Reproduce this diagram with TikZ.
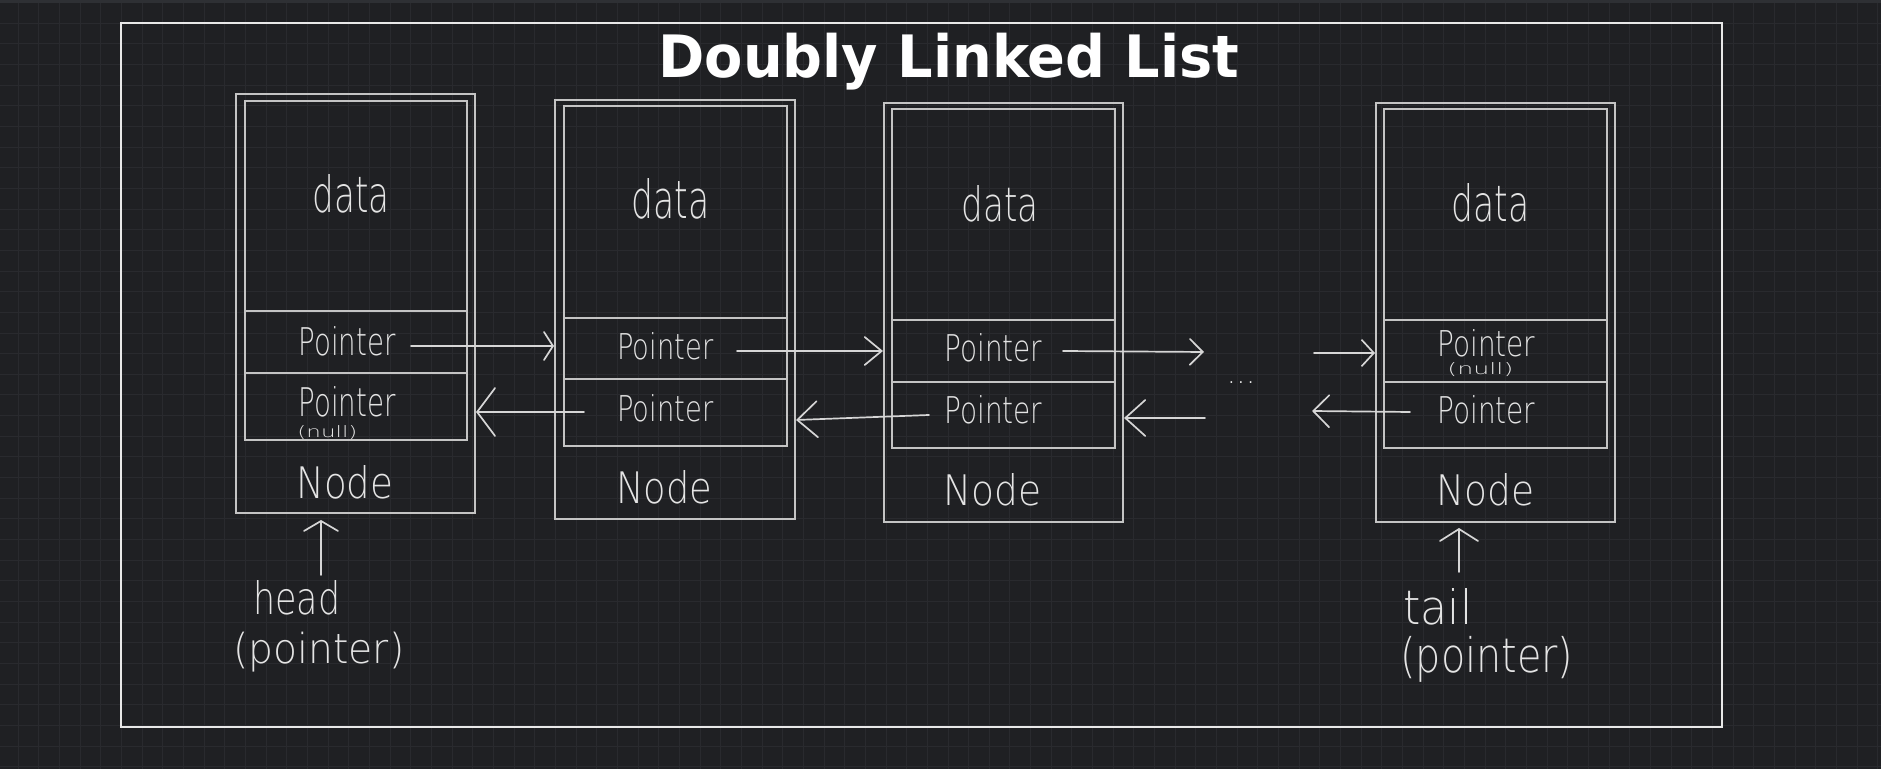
\documentclass[tikz,border=0pt]{standalone}
\usepackage{fontspec}
\setmainfont{DejaVu Sans}
\newfontfamily\hand{DejaVu Sans ExtraLight}
\usetikzlibrary{arrows.meta,fit}
\definecolor{bg}{HTML}{1F2023}
\definecolor{gridc}{HTML}{292A2E}
\definecolor{topbar}{HTML}{2E3034}
\definecolor{ink}{HTML}{E4E4E4}
\definecolor{arrc}{HTML}{D6D6D6}
\definecolor{boxc}{HTML}{C4C4C4}
\definecolor{framec}{HTML}{E8E8E8}
\begin{document}
\begin{tikzpicture}[x=0.5pt,y=-0.5pt,
  outerbox/.style={draw=boxc, line width=1pt, inner sep=0pt, rectangle},
  cell/.style={draw=boxc, line width=0.85pt, inner sep=0pt, rectangle},
  framebox/.style={draw=framec, line width=0.8pt, inner sep=0pt, rectangle},
  lbl/.style={text=ink, inner sep=0pt, anchor=south west, font=\hand},
  harr/.style 2 args={draw=arrc, line width=0.85pt, line cap=round,
    -{Straight Barb[length=#1,width=#2,line cap=round]}}]
% background
\useasboundingbox (0,0) rectangle (1881,769);
\fill[bg] (0,0) rectangle (1881,769);
\foreach \i in {0,...,90} {\draw[gridc, line width=0.5pt] ({18.3+\i*20.66},0) -- ++(0,769);}
\foreach \j in {0,...,37} {\draw[gridc, line width=0.5pt] (0,{2.65+\j*20.65}) -- ++(1881,0);}
\fill[topbar] (0,0) rectangle (1881,3);

% frame and title
\node[framebox, fit={(121,23) (1722,727)}] (frame) {};
\node[text=white, inner sep=0pt, anchor=south west, font=\bfseries] (title) at (658,91)
  {\resizebox*{290.5pt}{28.5pt}{Doubly Linked List}};

% ---- node 1
\node[outerbox, fit={(236,94) (475,513)}] (n1) {};
\node[cell, fit={(245,101) (467,311)}] (d1) {};
\node[cell, fit={(245,311) (467,373)}] (x1) {};
\node[cell, fit={(245,373) (467,440)}] (p1) {};
\node[lbl] (td1) at (312,214) {\resizebox{38.5pt}{19pt}{data}};
\node[lbl] (tx1) at (298,357) {\resizebox{48.5pt}{14.5pt}{Pointer}};
\node[lbl] (tp1) at (298,418) {\resizebox{48.5pt}{15pt}{Pointer}};
\node[lbl] (tn1) at (297,440) {\resizebox*{30pt}{7pt}{(null)}};
\node[lbl] (tN1) at (296,500) {\resizebox{48.5pt}{16.5pt}{Node}};

% ---- node 2
\node[outerbox, fit={(555,100) (795,519)}] (n2) {};
\node[cell, fit={(564,106) (787,318)}] (d2) {};
\node[cell, fit={(564,318) (787,379)}] (x2) {};
\node[cell, fit={(564,379) (787,446)}] (p2) {};
\node[lbl] (td2) at (631,220) {\resizebox{39pt}{20pt}{data}};
\node[lbl] (tx2) at (617,360) {\resizebox{48pt}{13.5pt}{Pointer}};
\node[lbl] (tp2) at (617,422) {\resizebox{48pt}{13.5pt}{Pointer}};
\node[lbl] (tN2) at (616,505) {\resizebox{48pt}{16.5pt}{Node}};

% ---- node 3
\node[outerbox, fit={(884,103) (1123,522)}] (n3) {};
\node[cell, fit={(892,109) (1115,320)}] (d3) {};
\node[cell, fit={(892,320) (1115,382)}] (x3) {};
\node[cell, fit={(892,382) (1115,448)}] (p3) {};
\node[lbl] (td3) at (961,223) {\resizebox{38.5pt}{18pt}{data}};
\node[lbl] (tx3) at (944,363) {\resizebox{49pt}{14pt}{Pointer}};
\node[lbl] (tp3) at (944,425) {\resizebox{49pt}{14pt}{Pointer}};
\node[lbl] (tN3) at (943,507) {\resizebox{49pt}{16pt}{Node}};

% ---- node 4
\node[outerbox, fit={(1376,103) (1615,522)}] (n4) {};
\node[cell, fit={(1384,109) (1607,320)}] (d4) {};
\node[cell, fit={(1384,320) (1607,382)}] (x4) {};
\node[cell, fit={(1384,382) (1607,448)}] (p4) {};
\node[lbl] (td4) at (1451,223) {\resizebox{39pt}{19pt}{data}};
\node[lbl] (tx4) at (1437,357) {\resizebox{49pt}{13.5pt}{Pointer}};
\node[lbl] (tn4) at (1447,377) {\resizebox*{33pt}{7pt}{(null)}};
\node[lbl] (tp4) at (1437,425) {\resizebox{49pt}{14pt}{Pointer}};
\node[lbl] (tN4) at (1436,507) {\resizebox{49pt}{16pt}{Node}};

% ellipsis
\node[text=ink, inner sep=0pt, font=\hand] (dots) at (1241,383) {\resizebox{14.5pt}{!}{...}};

% head / tail labels
\node[lbl] (head) at (253,616) {\resizebox{43.5pt}{17pt}{head}};
\node[lbl] (headp) at (233,673) {\resizebox*{85.5pt}{20pt}{(pointer)}};
\node[lbl] (tail) at (1403,626) {\resizebox{34.5pt}{18pt}{tail}};
\node[lbl] (tailp) at (1400,683) {\resizebox*{86.5pt}{23pt}{(pointer)}};

% connectors
\coordinate (a1s) at (411,346);
\draw[harr={4.5pt}{14pt}] (a1s) -- (a1s -| n2.west);
\coordinate (a2s) at (584,412);
\draw[harr={9pt}{24pt}] (a2s) -- (a2s -| n1.east);
\coordinate (a3s) at (737,351);
\draw[harr={8.5pt}{14pt}] (a3s) -- (a3s -| n3.west);
\coordinate (a4s) at (929,415);
\coordinate (a4e) at (800,420);
\draw[harr={10pt}{18pt}] (a4s) -- (n2.east |- a4e);
\coordinate (a5s) at (1063,351);
\coordinate (a5e) at (1204,352);
\draw[harr={6.5pt}{13pt}] (a5s) -- (a5e);
\coordinate (a6s) at (1314,353);
\draw[harr={6pt}{13pt}] (a6s) -- (a6s -| n4.west);
\coordinate (a7s) at (1205,418);
\draw[harr={10pt}{18pt}] (a7s) -- (a7s -| n3.east);
\coordinate (a8s) at (1410,412);
\coordinate (a8e) at (1312,411);
\draw[harr={8pt}{16pt}] (a8s) -- (a8e);
\coordinate (hs) at (321,575);
\draw[harr={5pt}{17pt}, shorten >=3pt] (hs) -- (hs |- n1.south);
\coordinate (ts) at (1459,572);
\draw[harr={6pt}{19pt}, shorten >=2.5pt] (ts) -- (ts |- n4.south);
\end{tikzpicture}
\end{document}
